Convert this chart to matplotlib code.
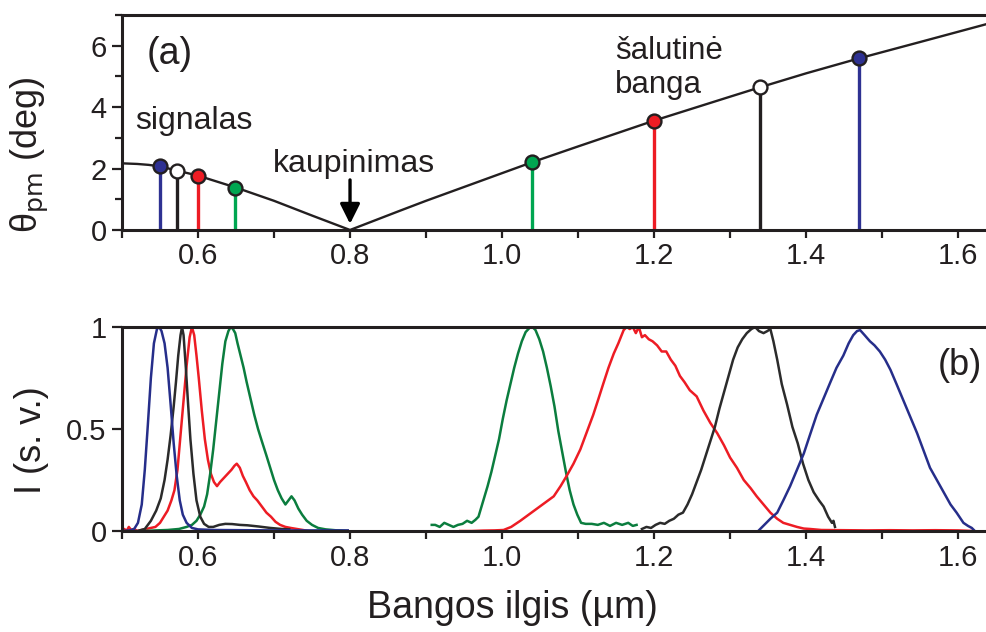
import matplotlib
matplotlib.use('Agg')
import matplotlib.pyplot as plt
from matplotlib.ticker import MultipleLocator

plt.rcParams['font.family'] = ['Liberation Sans', 'DejaVu Sans']

# (a) sinchronizmo kampo kreivė
kreive_lambda = [0.50, 0.52, 0.535, 0.55, 0.573, 0.60, 0.65, 0.70, 0.75, 0.80,
                 0.866, 0.90, 1.00, 1.04, 1.10, 1.20, 1.30, 1.34, 1.40, 1.47, 1.55, 1.64]
kreive_theta = [2.17, 2.15, 2.12, 2.07, 1.93, 1.77, 1.38, 0.95, 0.47, 0.0,
                0.63, 0.95, 1.85, 2.21, 2.72, 3.56, 4.34, 4.65, 5.10, 5.59, 6.12, 6.72]

# taškai: signalai ir šalutinės bangos
taskai_lambda = [0.5496, 0.572, 0.5996, 0.6487, 1.0395, 1.2, 1.34, 1.47]
taskai_theta = [2.07, 1.92, 1.77, 1.38, 2.21, 3.56, 4.65, 5.59]
taskai_serija = ['melyna', 'juoda', 'raudona', 'zalia', 'zalia', 'raudona', 'juoda', 'melyna']

# (b) spektrai - signalai
sig_melyna_x = [0.500, 0.510, 0.516, 0.521, 0.526, 0.530, 0.534, 0.538, 0.542, 0.546, 0.549, 0.552,
                0.556, 0.560, 0.564, 0.568, 0.572, 0.576, 0.580, 0.585, 0.592, 0.600, 0.620, 0.660,
                0.700, 0.750, 0.797]
sig_melyna_y = [0.0, 0.003, 0.01, 0.04, 0.13, 0.30, 0.52, 0.75, 0.92, 0.99, 1.0, 0.98,
                0.92, 0.80, 0.62, 0.43, 0.27, 0.15, 0.08, 0.04, 0.015, 0.008, 0.005, 0.004,
                0.003, 0.003, 0.003]

sig_juoda_x = [0.520, 0.530, 0.538, 0.545, 0.551, 0.556, 0.560, 0.564, 0.568, 0.571, 0.574, 0.577,
               0.579, 0.581, 0.584, 0.587, 0.590, 0.594, 0.598, 0.603, 0.608, 0.614, 0.620, 0.628,
               0.636, 0.645, 0.655, 0.665, 0.680, 0.695, 0.710, 0.720]
sig_juoda_y = [0.0, 0.01, 0.05, 0.10, 0.16, 0.25, 0.35, 0.47, 0.61, 0.73, 0.86, 0.96,
               1.0, 0.96, 0.80, 0.62, 0.45, 0.28, 0.15, 0.07, 0.035, 0.02, 0.02, 0.03,
               0.035, 0.034, 0.03, 0.028, 0.022, 0.015, 0.01, 0.008]

sig_raudona_x = [0.500, 0.503, 0.506, 0.509, 0.512, 0.516, 0.520, 0.526, 0.532, 0.538, 0.544, 0.550,
                 0.555, 0.560, 0.565, 0.569, 0.573, 0.577, 0.581, 0.585, 0.589, 0.592, 0.595, 0.598,
                 0.601, 0.605, 0.609, 0.613, 0.617, 0.621, 0.625, 0.629, 0.634, 0.639, 0.644, 0.648,
                 0.651, 0.655, 0.659, 0.663, 0.668, 0.673, 0.678, 0.684, 0.690, 0.696, 0.702, 0.708,
                 0.715, 0.722, 0.730, 0.738, 0.745]
sig_raudona_y = [0.0, 0.01, 0.0, 0.02, 0.005, 0.01, 0.0, 0.005, 0.01, 0.015, 0.02, 0.04,
                 0.07, 0.10, 0.15, 0.20, 0.30, 0.47, 0.64, 0.81, 0.95, 1.0, 0.96, 0.86,
                 0.75, 0.59, 0.45, 0.35, 0.28, 0.24, 0.22, 0.24, 0.26, 0.28, 0.30, 0.32,
                 0.33, 0.31, 0.27, 0.24, 0.20, 0.17, 0.15, 0.12, 0.09, 0.07, 0.045, 0.03,
                 0.02, 0.015, 0.01, 0.005, 0.0]

sig_zalia_x = [0.528, 0.545, 0.560, 0.575, 0.585, 0.592, 0.598, 0.603, 0.608, 0.612, 0.616, 0.620,
               0.624, 0.628, 0.632, 0.636, 0.640, 0.643, 0.646, 0.649, 0.652, 0.656, 0.660, 0.664,
               0.669, 0.674, 0.679, 0.684, 0.690, 0.695, 0.700, 0.705, 0.710, 0.715, 0.719, 0.723,
               0.727, 0.732, 0.737, 0.743, 0.750, 0.758, 0.768, 0.780, 0.796]
sig_zalia_y = [0.0, 0.003, 0.005, 0.01, 0.02, 0.03, 0.05, 0.08, 0.12, 0.18, 0.28, 0.40,
               0.54, 0.68, 0.82, 0.93, 0.98, 1.0, 0.99, 0.97, 0.92, 0.86, 0.80, 0.73,
               0.65, 0.57, 0.50, 0.44, 0.37, 0.31, 0.25, 0.20, 0.16, 0.13, 0.15, 0.17,
               0.15, 0.11, 0.08, 0.05, 0.03, 0.015, 0.008, 0.004, 0.0]

# (b) spektrai - šalutinės bangos
sal_zalia_x = [0.9075, 0.912, 0.918, 0.924, 0.930, 0.936, 0.942, 0.948, 0.954, 0.960,
               0.965, 0.969, 0.973, 0.977, 0.981, 0.986, 0.991, 0.996, 1.001, 1.006,
               1.011, 1.016, 1.021, 1.026, 1.031, 1.036, 1.040, 1.044, 1.049, 1.054,
               1.059, 1.064, 1.069, 1.074, 1.079, 1.084, 1.089, 1.094, 1.099, 1.104,
               1.110, 1.118, 1.126, 1.134, 1.142, 1.150, 1.158, 1.166, 1.172, 1.177]
sal_zalia_y = [0.03, 0.03, 0.02, 0.04, 0.03, 0.02, 0.03, 0.035, 0.05, 0.04,
               0.055, 0.07, 0.12, 0.17, 0.22, 0.29, 0.37, 0.45, 0.55, 0.64,
               0.72, 0.80, 0.87, 0.93, 0.975, 0.995, 1.0, 0.985, 0.94, 0.88,
               0.80, 0.71, 0.61, 0.49, 0.39, 0.29, 0.20, 0.13, 0.08, 0.04,
               0.035, 0.035, 0.03, 0.04, 0.025, 0.04, 0.03, 0.04, 0.025, 0.03]

sal_raudona_x = [0.945, 0.960, 0.975, 0.990, 1.002, 1.012, 1.024, 1.035, 1.046, 1.057,
                 1.068, 1.077, 1.085, 1.094, 1.103, 1.111, 1.120, 1.127, 1.133, 1.140,
                 1.147, 1.153, 1.160, 1.164, 1.168, 1.172, 1.176, 1.180, 1.184, 1.188,
                 1.193, 1.198, 1.204, 1.210, 1.216, 1.222, 1.228, 1.234, 1.240, 1.247,
                 1.256, 1.265, 1.274, 1.283, 1.292, 1.300, 1.309, 1.318, 1.327, 1.335,
                 1.344, 1.353, 1.362, 1.370, 1.379, 1.388, 1.397, 1.405, 1.42, 1.45,
                 1.48, 1.51, 1.54, 1.57, 1.60, 1.62]
sal_raudona_y = [0.0, 0.0, 0.002, 0.003, 0.005, 0.02, 0.05, 0.08, 0.11, 0.14,
                 0.17, 0.22, 0.27, 0.33, 0.40, 0.48, 0.57, 0.65, 0.72, 0.80,
                 0.87, 0.92, 0.985, 1.0, 0.99, 1.0, 0.97, 1.0, 0.95, 0.96,
                 0.94, 0.93, 0.91, 0.88, 0.88, 0.84, 0.81, 0.76, 0.73, 0.69,
                 0.66, 0.59, 0.53, 0.48, 0.42, 0.36, 0.31, 0.25, 0.21, 0.17,
                 0.13, 0.09, 0.06, 0.04, 0.03, 0.02, 0.012, 0.01, 0.005, 0.004,
                 0.003, 0.004, 0.003, 0.004, 0.003, 0.0]

sal_juoda_x = [1.184, 1.190, 1.196, 1.202, 1.208, 1.214, 1.220, 1.226, 1.232, 1.238,
               1.244, 1.250, 1.256, 1.262, 1.268, 1.274, 1.280, 1.286, 1.292, 1.298,
               1.304, 1.310, 1.316, 1.322, 1.328, 1.333, 1.338, 1.344, 1.349, 1.353,
               1.357, 1.362, 1.368, 1.375, 1.382, 1.389, 1.396, 1.403, 1.410, 1.417,
               1.423, 1.429, 1.434, 1.436, 1.438]
sal_juoda_y = [0.01, 0.02, 0.015, 0.03, 0.04, 0.035, 0.05, 0.06, 0.08, 0.09,
               0.13, 0.18, 0.24, 0.30, 0.37, 0.44, 0.51, 0.60, 0.68, 0.76,
               0.84, 0.90, 0.94, 0.97, 0.99, 1.0, 0.98, 0.97, 0.98, 0.99,
               0.93, 0.84, 0.72, 0.62, 0.51, 0.43, 0.33, 0.25, 0.19, 0.15,
               0.12, 0.07, 0.04, 0.05, 0.02]

sal_melyna_x = [1.337, 1.345, 1.353, 1.362, 1.370, 1.379, 1.388, 1.397, 1.405, 1.414,
                1.423, 1.432, 1.440, 1.449, 1.456, 1.462, 1.467, 1.471, 1.477, 1.484,
                1.490, 1.497, 1.504, 1.511, 1.519, 1.528, 1.537, 1.546, 1.554, 1.563,
                1.572, 1.581, 1.590, 1.598, 1.607, 1.613, 1.618, 1.622]
sal_melyna_y = [0.0, 0.03, 0.06, 0.09, 0.15, 0.22, 0.30, 0.38, 0.47, 0.57,
                0.65, 0.73, 0.80, 0.86, 0.92, 0.96, 0.98, 0.985, 0.96, 0.93,
                0.91, 0.88, 0.84, 0.79, 0.72, 0.64, 0.56, 0.48, 0.40, 0.31,
                0.25, 0.19, 0.13, 0.09, 0.04, 0.025, 0.015, 0.0]

# spalvos
spalvos_a = {'melyna': '#2e3192', 'juoda': '#231f20', 'raudona': '#ed1c24', 'zalia': '#00a651'}
spalvos_b = {'melyna': '#262e8a', 'juoda': '#2b2b2b', 'raudona': '#ed1c24', 'zalia': '#0b7d3e'}
JUODA = '#231f20'


def sutvarkyti_asis(ax):
    for s in ['left', 'top', 'bottom']:
        ax.spines[s].set_linewidth(2.2)
        ax.spines[s].set_color(JUODA)
    ax.spines['right'].set_visible(False)
    ax.set_xlim(0.5, 1.638)
    ax.xaxis.set_major_locator(MultipleLocator(0.2))
    ax.xaxis.set_minor_locator(MultipleLocator(0.1))
    ax.tick_params(axis='both', which='both', direction='out', width=1.6, color=JUODA,
                   labelsize=21, labelcolor=JUODA)
    ax.tick_params(axis='x', which='both', length=6, pad=3)
    ax.tick_params(axis='y', which='major', length=7, pad=4)
    ax.tick_params(axis='y', which='minor', length=5)


fig = plt.figure(figsize=(9.87, 6.32), dpi=100)
ax1 = fig.add_axes([0.1236, 0.6361, 0.8764, 0.3402])
ax2 = fig.add_axes([0.1236, 0.1598, 0.8764, 0.3228])

# ---- (a) ----
sutvarkyti_asis(ax1)
ax1.set_ylim(0, 7)
ax1.yaxis.set_major_locator(MultipleLocator(2))
ax1.yaxis.set_minor_locator(MultipleLocator(1))

ax1.plot(kreive_lambda, kreive_theta, color=JUODA, lw=1.7, zorder=3)
for lam, th, ser in zip(taskai_lambda, taskai_theta, taskai_serija):
    ax1.plot([lam, lam], [0, th], color=spalvos_a[ser], lw=2.4, zorder=2, solid_capstyle='butt')
    veidas = 'white' if ser == 'juoda' else spalvos_a[ser]
    ax1.plot(lam, th, 'o', ms=10, mfc=veidas, mec=JUODA, mew=1.7, zorder=4)

ax1.annotate('', xy=(0.8, 0.2), xytext=(0.8, 1.63),
             arrowprops=dict(arrowstyle='-|>', lw=2.4, color='black', mutation_scale=30,
                             shrinkA=0, shrinkB=0))
ax1.text(0.805, 1.89, 'kaupinimas', ha='center', va='baseline', fontsize=23, color=JUODA)
ax1.text(0.517, 3.29, 'signalas', ha='left', va='baseline', fontsize=23, color=JUODA)
ax1.text(1.149, 5.58, 'šalutinė', ha='left', va='baseline', fontsize=22.5, color=JUODA)
ax1.text(1.149, 4.47, 'banga', ha='left', va='baseline', fontsize=22.5, color=JUODA)
ax1.text(0.5325, 5.41, '(a)', ha='left', va='baseline', fontsize=27, color=JUODA)

ax1.set_ylabel(r'θ$_{\mathrm{pm}}$ (deg)', fontsize=26, color=JUODA, va='center')
ax1.yaxis.set_label_coords(-0.106, 0.35)

# ---- (b) ----
sutvarkyti_asis(ax2)
ax2.set_ylim(0, 1)
ax2.set_yticks([0, 0.5, 1])
ax2.set_yticklabels(['0', '0.5', '1'])

spektrai = [
    (sig_raudona_x, sig_raudona_y, 'raudona'),
    (sig_zalia_x, sig_zalia_y, 'zalia'),
    (sig_juoda_x, sig_juoda_y, 'juoda'),
    (sig_melyna_x, sig_melyna_y, 'melyna'),
    (sal_zalia_x, sal_zalia_y, 'zalia'),
    (sal_raudona_x, sal_raudona_y, 'raudona'),
    (sal_juoda_x, sal_juoda_y, 'juoda'),
    (sal_melyna_x, sal_melyna_y, 'melyna'),
]
for xs, ys, ser in spektrai:
    ax2.plot(xs, ys, color=spalvos_b[ser], lw=1.8)

ax2.text(1.5737, 0.765, '(b)', ha='left', va='baseline', fontsize=26, color=JUODA)

ax2.set_ylabel('I (s. v.)', fontsize=26, color=JUODA, va='center')
ax2.yaxis.set_label_coords(-0.105, 0.446)
ax2.set_xlabel('Bangos ilgis (µm)', fontsize=27, color=JUODA, va='center')
ax2.xaxis.set_label_coords(0.451, -0.377)

fig.savefig('out.png', dpi=100)
